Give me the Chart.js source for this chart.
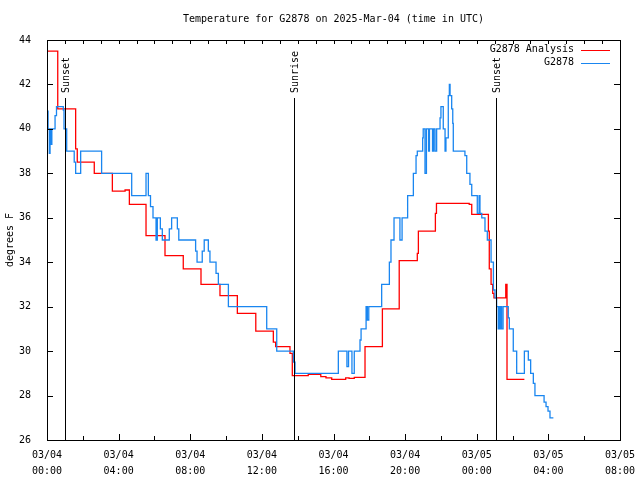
<!DOCTYPE html>
<html>
<head>
<meta charset="utf-8">
<title>Temperature for G2878</title>
<script src="https://cdn.jsdelivr.net/npm/chart.js@4.4.1/dist/chart.umd.min.js"></script>
<style>
  html, body { margin: 0; padding: 0; background: #fff; }
  canvas { display: block; }
</style>
</head>
<body>
<canvas id="temp-chart" width="640" height="480"></canvas>
<script>
// times are hours since 03/04 00:00 UTC, each value holds until the next time
const analysisHours = [0, 0.60, 1.60, 1.69, 2.64, 3.65, 4.36, 4.60, 5.53, 6.59, 7.61, 8.60, 9.66, 10.63,
  11.66, 12.64, 12.77, 13.57, 13.70, 14.59, 15.29, 15.58, 15.90, 16.68, 16.87, 17.16, 17.76, 18.73,
  19.67, 20.68, 20.74, 21.69, 21.75, 22.69, 23.58, 23.72, 24.65, 24.70, 24.80, 24.89, 24.96, 25.62,
  25.69, 26.66];
const analysisTemps = [43.5, 40.9, 39.1, 38.5, 38.0, 37.2, 37.25, 36.6, 35.2, 34.3, 33.7, 33.0, 32.5, 31.7,
  30.9, 30.4, 30.2, 29.9, 28.9, 28.95, 28.85, 28.8, 28.73, 28.8, 28.77, 28.82, 30.2, 31.9,
  34.07, 34.4, 35.4, 36.2, 36.65, 36.65, 36.6, 36.15, 35.4, 33.7, 33.0, 32.6, 32.4, 33.0,
  28.73, 28.73];

const stationHours = [0, 0.06, 0.13, 0.17, 0.22, 0.27, 0.45, 0.53, 0.91, 0.95, 1.10, 1.52, 1.60, 1.88,
  3.05, 4.73, 5.53, 5.66, 5.78, 5.92, 6.09, 6.16, 6.33, 6.44, 6.83, 6.96, 7.28, 7.36, 8.30, 8.38,
  8.67, 8.78, 9.01, 9.10, 9.44, 9.57, 10.13, 12.27, 12.83, 13.76, 13.85, 16.27, 16.75, 16.84, 17.03,
  17.16, 17.48, 17.54, 17.82, 17.89, 17.97, 18.69, 19.12, 19.21, 19.38, 19.71, 19.83, 20.14, 20.46,
  20.61, 20.68, 20.98, 21.01, 21.11, 21.19, 21.31, 21.36, 21.53, 21.59, 21.67, 21.76, 21.95, 22.00,
  22.13, 22.23, 22.28, 22.41, 22.47, 22.51, 22.60, 22.66, 22.69, 23.34, 23.44, 23.62, 23.72, 24.03,
  24.13, 24.18, 24.28, 24.46, 24.59, 24.80, 24.93, 25.02, 25.11, 25.20, 25.26, 25.30, 25.35, 25.39,
  25.47, 25.76, 25.82, 26.04, 26.23, 26.66, 26.88, 27.01, 27.16, 27.25, 27.76, 27.87, 27.98, 28.09,
  28.28];
const stationTemps = [40.8, 40.0, 38.9, 40.0, 39.3, 40.0, 40.6, 41.0, 40.85, 40.0, 39.0, 38.5, 38.0, 39.0,
  38.0, 37.0, 38.0, 37.0, 36.5, 36.0, 35.0, 36.0, 35.5, 35.0, 35.5, 36.0, 35.5, 35.0, 34.5, 34.0,
  34.5, 35.0, 34.5, 34.0, 33.5, 33.0, 32.0, 31.0, 30.0, 29.5, 29.0, 30.0, 29.3, 30.0, 29.0,
  30.0, 30.5, 31.0, 32.0, 31.4, 32.0, 33.0, 34.0, 35.0, 36.0, 35.0, 36.0, 37.0, 38.0,
  38.8, 39.0, 39.6, 40.0, 38.0, 40.0, 39.0, 40.0, 39.0, 40.0, 39.0, 40.0, 40.5, 41.0,
  40.0, 39.0, 39.6, 41.5, 42.0, 41.5, 40.9, 40.25, 39.0, 38.8, 38.0, 37.5, 37.0, 36.2,
  37.0, 36.2, 36.0, 35.4, 35.0, 34.0, 32.75, 32.4, 32.0, 31.0, 32.0, 31.0, 32.0, 31.0,
  32.0, 31.5, 31.0, 30.0, 29.0, 30.0, 29.6, 29.0, 28.55, 28.0, 27.7, 27.5, 27.3, 27.0,
  27.0];

const sunHours = [1.0, 13.79, 25.07];
const sunLabels = ['Sunset', 'Sunrise', 'Sunset'];

const xTickLabels = [
  ['03/04', '00:00'], ['03/04', '04:00'], ['03/04', '08:00'], ['03/04', '12:00'], ['03/04', '16:00'],
  ['03/04', '20:00'], ['03/05', '00:00'], ['03/05', '04:00'], ['03/05', '08:00']
];
const seriesNames = ['G2878 Analysis', 'G2878'];
const seriesColors = ['#ff0000', '#1a86f0'];

const FONT_FAMILY = '"DejaVu Sans Mono", monospace';
const FONT = '10px ' + FONT_FAMILY;

const toPoints = (hours, temps) => hours.map((h, i) => ({ x: h, y: temps[i] }));

// gnuplot look: boxed frame, inward ticks, sun lines, title and legend inside the plot
const gnuplotFrame = {
  id: 'gnuplotFrame',
  afterDatasetsDraw(chart) {
    const { ctx, chartArea: a, scales: { x, y } } = chart;
    ctx.save();
    ctx.strokeStyle = '#000';
    ctx.lineWidth = 1;
    ctx.fillStyle = '#000';
    ctx.font = FONT;

    ctx.beginPath();
    for (let h = 0; h <= 32; h += 2) {
      const px = Math.round(x.getPixelForValue(h)) + 0.5;
      const len = h % 4 === 0 ? 6 : 4;
      ctx.moveTo(px, a.bottom); ctx.lineTo(px, a.bottom - len);
    }
    for (let h = 0; h <= 32; h += 1) {
      const px = Math.round(x.getPixelForValue(h)) + 0.5;
      ctx.moveTo(px, a.top); ctx.lineTo(px, a.top + 4);
    }
    for (let t = 26; t <= 44; t += 2) {
      const py = Math.round(y.getPixelForValue(t)) + 0.5;
      ctx.moveTo(a.left, py); ctx.lineTo(a.left + 6, py);
      ctx.moveTo(a.right, py); ctx.lineTo(a.right - 6, py);
    }
    ctx.stroke();
    ctx.strokeRect(a.left + 0.5, a.top + 0.5, a.right - a.left, a.bottom - a.top);

    // sunrise / sunset markers
    sunHours.forEach((h, i) => {
      const px = Math.round(x.getPixelForValue(h)) + 0.5;
      ctx.beginPath();
      ctx.moveTo(px, a.top + 58);
      ctx.lineTo(px, a.bottom);
      ctx.stroke();
      ctx.save();
      ctx.translate(px + 1, a.top + 53);
      ctx.rotate(-Math.PI / 2);
      ctx.textAlign = 'left';
      ctx.textBaseline = 'middle';
      ctx.fillText(sunLabels[i], 0, 0);
      ctx.restore();
    });

    // title
    ctx.textAlign = 'center';
    ctx.textBaseline = 'middle';
    ctx.fillText('Temperature for G2878 on 2025-Mar-04 (time in UTC)', (a.left + a.right) / 2, 19);

    // legend
    ctx.textAlign = 'right';
    seriesNames.forEach((name, i) => {
      const ly = a.top + 9.5 + i * 13;
      ctx.fillStyle = '#000';
      ctx.fillText(name, a.right - 46, ly);
      ctx.strokeStyle = seriesColors[i];
      ctx.beginPath();
      ctx.moveTo(a.right - 39, Math.round(ly) + 0.5);
      ctx.lineTo(a.right - 10, Math.round(ly) + 0.5);
      ctx.stroke();
    });
    ctx.restore();
  }
};

new Chart(document.getElementById('temp-chart'), {
  type: 'line',
  data: {
    datasets: [
      {
        label: seriesNames[0],
        data: toPoints(analysisHours, analysisTemps),
        borderColor: seriesColors[0],
        borderWidth: 1.3,
        pointRadius: 0,
        stepped: 'before',
        order: 1
      },
      {
        label: seriesNames[1],
        data: toPoints(stationHours, stationTemps),
        borderColor: seriesColors[1],
        borderWidth: 1.3,
        pointRadius: 0,
        stepped: 'before',
        order: 0
      }
    ]
  },
  options: {
    responsive: false,
    animation: false,
    devicePixelRatio: 1,
    layout: { padding: { top: 40, right: 20, left: 0, bottom: 0 } },
    plugins: {
      legend: { display: false },
      title: { display: false },
      tooltip: { enabled: false }
    },
    scales: {
      x: {
        type: 'linear',
        min: 0,
        max: 32,
        grid: { display: false },
        border: { display: false },
        ticks: {
          stepSize: 4,
          autoSkip: false,
          maxRotation: 0,
          padding: 0,
          color: '#000',
          font: { family: FONT_FAMILY, size: 10, lineHeight: 1.55 },
          callback: (v) => xTickLabels[v / 4]
        },
        afterFit: (s) => { s.height = 40; s.paddingLeft = 0; s.paddingRight = 0; }
      },
      y: {
        min: 26,
        max: 44,
        grid: { display: false },
        border: { display: false },
        ticks: {
          stepSize: 2,
          padding: 8,
          color: '#000',
          font: { family: FONT_FAMILY, size: 10 }
        },
        title: {
          display: true,
          text: 'degrees F',
          color: '#000',
          font: { family: FONT_FAMILY, size: 10 },
          padding: { top: 4, bottom: 0 }
        },
        afterFit: (s) => { s.width = 47; }
      }
    }
  },
  plugins: [gnuplotFrame]
});
</script>
</body>
</html>
